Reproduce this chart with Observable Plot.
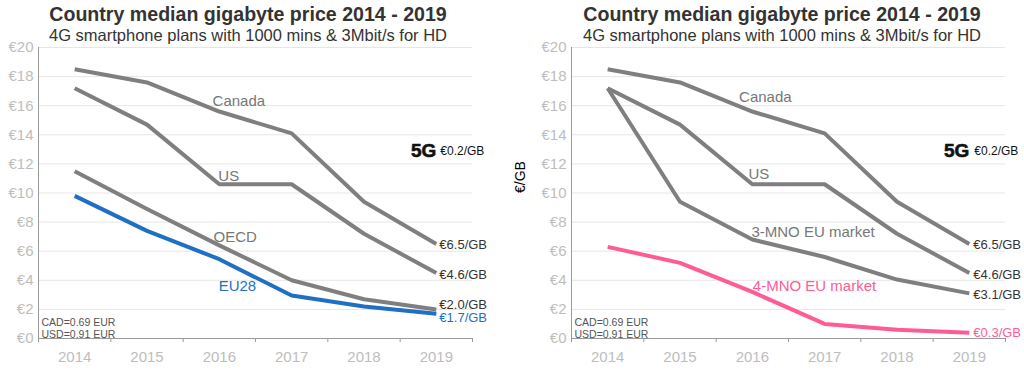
<!DOCTYPE html>
<html><head><meta charset="utf-8">
<script src="https://cdn.jsdelivr.net/npm/d3@7"></script>
<script src="https://cdn.jsdelivr.net/npm/@observablehq/plot@0.6"></script>
<style>
body{margin:0;background:#fff;font-family:"Liberation Sans",Arial,sans-serif;}
#wrap{display:flex;width:1024px;height:389px;overflow:hidden;}
.panel{width:512px;position:relative;}
.title{height:40px;text-align:center;color:#333;white-space:nowrap;}
.t1{font-weight:bold;font-size:19.6px;line-height:19px;padding-top:5px;}
.t2{font-size:16.5px;line-height:17px;margin-top:3px;}
</style></head>
<body><div id="wrap"><div class="panel" id="p1"></div><div class="panel" id="p2"></div></div>
<script>
const years = [2014, 2015, 2016, 2017, 2018, 2019];
const yTicks = [0, 2, 4, 6, 8, 10, 12, 14, 16, 18, 20];
const canada = [18.5, 17.6, 15.6, 14.1, 9.4, 6.5];
const us = [17.2, 14.7, 10.6, 10.6, 7.2, 4.5];
const oecd = [11.5, 8.9, 6.4, 4.0, 2.7, 2.0];
const eu28 = [9.8, 7.4, 5.45, 2.95, 2.2, 1.7];
const mno3 = [17.2, 9.4, 6.8, 5.6, 4.05, 3.1];
const mno4 = [6.3, 5.2, 3.2, 1.0, 0.6, 0.4];

const titleText = "Country median gigabyte price 2014 - 2019";
const subtitleText = "4G smartphone plans with 1000 mins & 3Mbit/s for HD";
const footnote = "CAD=0.69 EUR\nUSD=0.91 EUR";
const fiveG = "5G";
const fiveGPrice = "€0.2/GB";

// left panel labels
const leftNames = ["Canada", "US", "OECD", "EU28"];
const leftNameX = [2016.27, 2016.13, 2016.22, 2016.25];
const leftNameY = [16.3, 11.13, 6.94, 3.57];
const leftEnd = ["€6.5/GB", "€4.6/GB", "€2.0/GB", "€1.7/GB"];
const leftEndY = [6.46, 4.4, 2.34, 1.44];
// right panel labels
const rightNames = ["Canada", "US", "3-MNO EU market", "4-MNO EU market"];
const rightNameX = [2016.18, 2016.09, 2016.84, 2016.86];
const rightNameY = [16.56, 11.27, 7.28, 3.57];
const rightEnd = ["€6.5/GB", "€4.6/GB", "€3.1/GB", "€0.3/GB"];
const rightEndY = [6.46, 4.4, 3.02, 0.41];

const GRAY = "#7f7f7f", BLUE = "#1f6fc5", PINK = "#ff5c95";

function series(vals, name) { return years.map((y, i) => ({year: y, value: vals[i], name})); }

function makePanel(el, opts) {
  const head = document.createElement("div");
  head.className = "title";
  head.style.transform = `translateX(${opts.titleShift}px)`;
  head.innerHTML = `<div class="t1">${titleText}</div><div class="t2">${subtitleText}</div>`;
  el.appendChild(head);

  const bounds = [years[0] - 0.5, ...years.map(y => y + 0.5)];
  const labels = opts.names.map((n, i) => ({n, x: opts.nameX[i], y: opts.nameY[i], c: opts.colors[i]}));
  const ends = opts.ends.map((n, i) => ({n, y: opts.endY[i], c: opts.endColors[i]}));

  const marks = [
    Plot.gridY(yTicks.filter(d => d > 0), {stroke: "#e6e6e6", strokeOpacity: 1, strokeWidth: 1}),
    Plot.axisY(yTicks, {tickSize: 0, tickPadding: 5, tickFormat: d => "€" + d, fill: "#bdbdbd", fontSize: 15, label: null}),
    Plot.axisX(bounds, {tickSize: 4, tickFormat: () => "", stroke: "#9a9a9a", label: null}),
    Plot.axisX(years, {tickSize: 0, tickPadding: 13, tickFormat: d => String(d), fill: "#bdbdbd", fontSize: 15, label: null}),
    Plot.ruleX([bounds[0]], {stroke: "#9a9a9a"}),
    Plot.ruleY([0], {stroke: "#9a9a9a"}),
  ];
  opts.series.forEach((s, i) => {
    marks.push(Plot.line(series(s, i), {x: "year", y: "value", stroke: opts.lineColors[i], strokeWidth: 4, strokeLinejoin: "round", strokeLinecap: "butt"}));
  });
  marks.push(
    Plot.text(labels, {x: "x", y: "y", text: "n", fill: "c", fontSize: 15}),
    Plot.text(ends, {x: () => years[years.length - 1], y: "y", text: "n", fill: "c", fontSize: 13, textAnchor: "start", dx: opts.endDx}),
    Plot.text([fiveG], {x: () => years[years.length - 1], y: () => 12.9, text: d => d, fontSize: 19, fontWeight: 900, fill: "#111", stroke: "#111", strokeWidth: 0.6, textAnchor: "end", dx: 0, ariaLabel: "badge5g"}),
    Plot.text([fiveGPrice], {x: () => years[years.length - 1], y: () => 12.85, text: d => d, fontSize: 12, fill: "#111", textAnchor: "start", dx: opts.endDx + 1}),
    Plot.text([footnote], {frameAnchor: "bottom-left", text: d => d, fontSize: 10.5, fill: "#555", textAnchor: "start", lineAnchor: "bottom", lineHeight: 1.05, dx: 3, dy: -1})
  );
  if (opts.yLabel) {
    marks.push(Plot.text([opts.yLabel], {frameAnchor: "left", text: d => d, rotate: -90, fontSize: 14, fill: "#000", dx: -51, dy: 0}));
  }
  const chart = Plot.plot({
    width: 512, height: 349,
    marginTop: 7, marginBottom: 51, marginLeft: opts.marginLeft, marginRight: opts.marginRight,
    style: {fontFamily: "Liberation Sans, Arial, sans-serif", background: "transparent", overflow: "visible"},
    x: {domain: [bounds[0], bounds[bounds.length - 1]]},
    y: {domain: [0, 20]},
    marks
  });
  el.appendChild(chart);
  // light background behind the 5G badge
  const badge = chart.querySelector('g[aria-label="badge5g"]');
  if (badge) {
    const t = badge.querySelector("text");
    const bb = t.getBBox();
    const ctm = t.getAttribute("transform");
    const r = document.createElementNS("http://www.w3.org/2000/svg", "rect");
    r.setAttribute("x", bb.x - 2); r.setAttribute("y", bb.y + 2);
    r.setAttribute("width", bb.width + 3); r.setAttribute("height", bb.height - 3);
    r.setAttribute("fill", "#ececec");
    if (ctm) r.setAttribute("transform", ctm);
    t.parentNode.insertBefore(r, t);
  }
}

makePanel(document.getElementById("p1"), {
  titleShift: -8, marginLeft: 38, marginRight: 40, endDx: 3,
  series: [canada, us, oecd, eu28], lineColors: [GRAY, GRAY, GRAY, BLUE],
  names: leftNames, nameX: leftNameX, nameY: leftNameY, colors: ["#777", "#777", "#777", BLUE],
  ends: leftEnd, endY: leftEndY, endColors: ["#333", "#333", "#333", BLUE]
});
makePanel(document.getElementById("p2"), {
  titleShift: 14, marginLeft: 59, marginRight: 19, endDx: 4, yLabel: "€/GB",
  series: [canada, us, mno3, mno4], lineColors: [GRAY, GRAY, GRAY, PINK],
  names: rightNames, nameX: rightNameX, nameY: rightNameY, colors: ["#777", "#777", "#777", PINK],
  ends: rightEnd, endY: rightEndY, endColors: ["#333", "#333", "#333", PINK]
});
</script></body></html>
